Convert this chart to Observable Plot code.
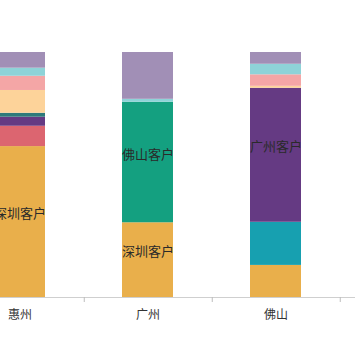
<!DOCTYPE html>
<html>
<head>
<meta charset="utf-8">
<script src="https://cdn.jsdelivr.net/npm/d3@7"></script>
<script src="https://cdn.jsdelivr.net/npm/@observablehq/plot@0.6"></script>
<style>
  html, body { margin: 0; padding: 0; background: #fff; overflow: hidden; }
  #chart svg { overflow: hidden; display: block; }
</style>
</head>
<body>
<div id="chart"></div>
<script>
// categories (4th band lies outside the visible crop)
const cities = ["惠州", "广州", "佛山", "东莞"];
// series, bottom to top in each stack
const seriesNames = ["深圳客户", "东莞客户", "佛山客户", "惠州客户", "广州客户", "中山客户", "珠海客户", "江门客户", "肇庆客户", "其他客户"];
const seriesColors = ["#E9AF4B", "#DC6570", "#14A080", "#17A0B0", "#653A83", "#2E7A7B", "#FDD39A", "#F4A6A6", "#8ED3D8", "#A18FB6"];
// shares (%) per city, in seriesNames order
const huizhouValues   = [61.6, 8.3, 0, 0, 3.7, 1.6, 9.3, 5.8, 3.3, 6.4];
const guangzhouValues = [30.5, 0, 49.2, 0, 0, 0, 0, 0, 1.2, 19.1];
const foshanValues    = [13.1, 0, 0, 17.6, 54.7, 0, 0.8, 4.7, 4.3, 4.8];
// segments that carry an in-bar label
const labeledSegments = [["惠州", "深圳客户"], ["广州", "深圳客户"], ["广州", "佛山客户"], ["佛山", "广州客户"]];

const valuesByCity = {"惠州": huizhouValues, "广州": guangzhouValues, "佛山": foshanValues};
const rows = [];
for (const city of Object.keys(valuesByCity)) {
  valuesByCity[city].forEach((v, i) => {
    rows.push({
      city,
      series: seriesNames[i],
      value: v,
      label: labeledSegments.some(([c, s]) => c === city && s === seriesNames[i])
    });
  });
}

const step = 128.5;
const chart = Plot.plot({
  width: 355,
  height: 355,
  marginTop: 52,
  marginBottom: 58,
  marginLeft: 0,
  marginRight: 0,
  style: {fontFamily: "'Noto Sans CJK SC', 'Noto Sans', sans-serif", background: "#fff"},
  x: {domain: cities, range: [-44.95, 469.05], paddingInner: 0.6, paddingOuter: 0.3, align: 0.5, axis: null, label: null},
  y: {domain: [0, 100], axis: null},
  color: {domain: seriesNames, range: seriesColors},
  marks: [
    Plot.barY(rows, Plot.stackY({x: "city", y: "value", fill: "series", order: seriesNames})),
    Plot.text(rows, Plot.stackY({
      x: "city", y: "value", z: "series", order: seriesNames,
      text: d => d.label ? d.series : null,
      dy: -8, fontSize: 13, fill: "#2a2a2a"
    })),
    Plot.ruleY([0], {stroke: "#cfcfcf"}),
    Plot.axisX({tickSize: 5, dx: step / 2, tickFormat: () => "", stroke: "#bdbdbd", label: null}),
    Plot.axisX({tickSize: 0, tickPadding: 13, fontSize: 12, fill: "#333", label: null,
      tickFormat: d => valuesByCity[d] ? d : ""})
  ]
});
document.getElementById("chart").appendChild(chart);
</script>
</body>
</html>
